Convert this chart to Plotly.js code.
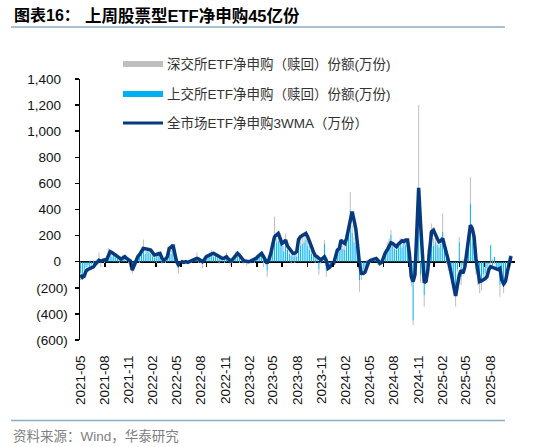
<!DOCTYPE html>
<html>
<head>
<meta charset="utf-8">
<script src="https://cdn.plot.ly/plotly-3.0.1.min.js"></script>
<style>html,body{margin:0;padding:0;background:#fff;}#chart{width:550px;height:447px;}</style>
</head>
<body>
<div id="chart"></div>
<script>
// ---- Data (weekly, starting 2021-05-14) ----
const START_DATE = '2021-05-14';
const TICK_LABELS = ['2021-05','2021-08','2021-11','2022-02','2022-05','2022-08','2022-11','2023-02','2023-05','2023-08','2023-11','2024-02','2024-05','2024-08','2024-11','2025-02','2025-05','2025-08'];
const Y_TICKS = [-600,-400,-200,0,200,400,600,800,1000,1200,1400];
const Y_TICK_TEXT = ['(600)','(400)','(200)','0\u2002','200\u2002','400\u2002','600\u2002','800\u2002','1,000\u2002','1,200\u2002','1,400\u2002'];

// 深交所ETF净申购（赎回）份额(万份)
const SZ = [
 -50,-30,-20,-15,-20,10,-15,15,-20,20,
 40,-30,10,-20,15,45,20,30,10,30,
 10,-10,20,15,20,10,-15,5,-40,10,
 10,20,-10,40,80,30,20,40,30,20,
 20,-20,30,40,-15,10,-10,20,30,40,
 40,60,10,-50,-10,-15,10,-10,5,-10,
 -10,10,10,40,-10,15,-30,10,20,30,
 20,30,20,10,30,-15,20,15,-10,20,
 15,-20,-15,20,30,40,-10,20,-20,10,
 -20,-10,10,-5,-10,20,15,20,30,-40,
 -20,-45,20,30,60,127,30,70,40,50,
 40,67,30,20,-15,20,-10,30,60,80,
 60,50,70,40,30,30,20,-10,20,-40,
 -15,10,26,-45,-20,-10,-15,-10,25,30,
 30,50,40,30,60,80,140,60,40,30,
 20,-90,-40,-30,-30,15,-20,-10,10,20,
 15,-20,-30,20,10,30,40,50,38,30,
 30,50,20,40,30,30,40,30,-30,-40,
 -35,-60,100,850,-60,-40,-90,-60,40,80,
 93,60,40,50,40,30,140,30,-20,-30,
 -30,-40,-60,-94,-20,40,-58,20,10,30,
 60,204,60,50,-40,-60,-102,-60,-50,-40,
 -30,-20,-20,20,-20,-30,-20,-88,-40,-92,
 -60,-30,21,21
];
// 上交所ETF净申购（赎回）份额(万份)
const SH = [
 -90,-110,-60,-40,-30,-50,-20,-30,10,-10,
 30,-10,20,10,30,60,70,40,50,30,
 20,30,10,40,30,10,20,-10,-50,-20,
 20,40,50,70,90,60,80,70,60,40,
 30,40,50,30,10,-10,30,40,80,60,
 90,80,-20,-40,-10,10,-10,5,-10,10,
 10,5,20,30,10,-10,-20,30,40,30,
 50,60,40,50,30,20,20,10,30,50,
 10,-10,20,30,50,40,30,10,5,-10,
 -10,10,5,10,20,30,40,50,50,30,
 10,-70,30,60,120,217,150,160,180,120,
 80,150,90,60,50,40,60,40,130,120,
 140,150,170,120,90,60,40,30,40,-60,
 20,30,140,-70,-40,-30,-20,10,40,70,
 80,130,100,90,160,200,395,220,150,120,
 60,-140,-100,-60,-40,-20,-10,10,20,10,
 20,-10,10,-20,50,70,110,130,204,120,
 100,90,120,140,110,150,130,150,-20,-150,
 -450,-50,150,350,-100,-40,-255,-80,60,150,
 200,120,150,130,110,140,230,120,20,-40,
 -60,-120,-150,-250,-60,150,-120,-30,-20,50,
 100,446,150,80,-60,-120,-140,-160,-100,-90,
 -50,-20,128,-30,38,-40,-50,-180,-60,-150,
 -120,-40,30,30
];
// 全市场ETF净申购3WMA（万份）
const WMA3 = [
 -100,-120,-110,-70,-60,-55,-45,-40,-20,-5,
 10,5,13,15,10,40,77,70,60,51,
 35,25,20,30,38,25,15,5,-64,-30,
 10,38,55,80,102,100,95,90,89,70,
 51,55,60,64,30,10,20,38,102,110,
 128,60,0,-25,-15,0,-5,0,-5,0,
 5,10,15,25,20,10,0,15,38,45,
 55,60,64,58,51,40,30,25,30,38,
 20,8,13,30,50,64,50,30,13,5,
 0,0,5,10,13,25,40,51,64,40,
 10,-13,20,64,130,191,205,217,180,140,
 150,166,120,100,77,64,66,77,170,191,
 200,210,217,190,160,115,77,45,38,30,
 15,25,38,10,-50,-40,-20,-13,40,89,
 100,166,150,140,180,242,320,383,320,250,
 120,-20,-89,-90,-80,-40,0,10,13,20,
 25,10,-13,-5,40,70,89,120,145,140,
 125,115,135,150,160,155,166,166,60,-115,
 -153,-100,250,566,300,0,-160,-150,-60,100,
 230,242,200,179,153,160,179,130,80,13,
 -50,-115,-200,-263,-180,-100,-64,-89,-40,60,
 160,280,255,191,25,-89,-153,-148,-140,-130,
 -115,-60,-38,-45,-51,-60,-60,-51,-140,-170,
 -150,-76,-10,43
];

const NAMES = ['深交所ETF净申购（赎回）份额(万份)','上交所ETF净申购（赎回）份额(万份)','全市场ETF净申购3WMA（万份）'];
const COLORS = ['#BFBFBF','#00B0F0','#06397D'];

// weekly category dates
const WEEKS = [];
(function(){
  const t0 = Date.parse(START_DATE + 'T00:00:00Z');
  for (let i = 0; i < WMA3.length; i++) {
    WEEKS.push(new Date(t0 + i*7*86400000).toISOString().slice(0,10));
  }
})();

const X_RANGE = ['2021-05-12','2025-11-15'];
// minor tick marks on the zero line (style)
const ZERO_TICKS = [];
(function(){
  const t0 = Date.parse(X_RANGE[0] + 'T00:00:00Z');
  for (let k = 1; k <= 17; k++) ZERO_TICKS.push(new Date(t0 + k*95.8*86400000).toISOString().slice(0,10));
})();

const FONT = 'Liberation Sans, Arial, Noto Sans CJK SC, sans-serif';

const traces = [
  {type:'bar', x:WEEKS, y:SH, name:NAMES[1], marker:{color:COLORS[1], line:{width:0}}, showlegend:false},
  {type:'bar', x:WEEKS, y:SZ, name:NAMES[0], marker:{color:COLORS[0], line:{width:0}}, showlegend:false},
  {type:'scatter', mode:'lines', x:WEEKS, y:WMA3, name:NAMES[2], line:{color:COLORS[2], width:3.5}, showlegend:false},
  {type:'scatter', mode:'lines', x:X_RANGE, y:[0,0], xaxis:'x2', line:{color:'rgba(0,0,0,0)', width:0}, showlegend:false, hoverinfo:'skip'}
];

// plot area px: left 80, right 515, top 79, bottom 340
const PW = 435, PH = 261;
const px = v => (v - 80) / PW;
const py = v => (340 - v) / PH;

const shapes = [
  {type:'line', xref:'paper', yref:'paper', x0:px(11), x1:px(505), y0:py(27), y1:py(27), line:{color:'#8FAAC4', width:1.5}},
  {type:'line', xref:'paper', yref:'paper', x0:px(11), x1:px(505), y0:py(420.5), y1:py(420.5), line:{color:'#8FAAC4', width:1.5}},
  {type:'rect', xref:'paper', yref:'paper', x0:px(123), x1:px(163), y0:py(67), y1:py(61), fillcolor:COLORS[0], line:{width:0}},
  {type:'rect', xref:'paper', yref:'paper', x0:px(123), x1:px(163), y0:py(97), y1:py(91), fillcolor:COLORS[1], line:{width:0}},
  {type:'line', xref:'paper', yref:'paper', x0:px(123), x1:px(163), y0:py(123), y1:py(123), line:{color:COLORS[2], width:3}}
];

const annotations = [
  {xref:'paper', yref:'paper', x:px(12), y:py(16), xanchor:'left', yanchor:'middle', showarrow:false, text:'图表16：', font:{family:FONT, size:16, color:'#000', weight:'bold'}},
  {xref:'paper', yref:'paper', x:px(83), y:py(16), xanchor:'left', yanchor:'middle', showarrow:false, text:'上周股票型ETF净申购45亿份', font:{family:FONT, size:16.5, color:'#000', weight:'bold'}},
  {xref:'paper', yref:'paper', x:px(165), y:py(64), xanchor:'left', yanchor:'middle', showarrow:false, text:NAMES[0], font:{family:FONT, size:13.5, color:'#333'}},
  {xref:'paper', yref:'paper', x:px(165), y:py(94), xanchor:'left', yanchor:'middle', showarrow:false, text:NAMES[1], font:{family:FONT, size:13.5, color:'#333'}},
  {xref:'paper', yref:'paper', x:px(165), y:py(123), xanchor:'left', yanchor:'middle', showarrow:false, text:NAMES[2], font:{family:FONT, size:13.5, color:'#333'}},
  {xref:'paper', yref:'paper', x:px(11), y:py(436), xanchor:'left', yanchor:'middle', showarrow:false, text:'资料来源：Wind，华泰研究', font:{family:FONT, size:13.5, color:'#808080'}}
];

const layout = {
  width:550, height:447,
  margin:{l:80, r:35, t:79, b:107},
  paper_bgcolor:'#fff', plot_bgcolor:'#fff',
  font:{family:FONT, color:'#000'},
  barmode:'relative', bargap:0.45,
  showlegend:false,
  xaxis:{type:'date', range:X_RANGE, tickvals:TICK_LABELS.map(s => s + '-13'), ticktext:TICK_LABELS,
         tickangle:-90, ticks:'outside', ticklen:9, tickcolor:'rgba(0,0,0,0)', showline:false, showgrid:false, zeroline:false,
         tickfont:{family:FONT, size:13.5, color:'#111'}, fixedrange:true},
  xaxis2:{type:'date', overlaying:'x', anchor:'free', position:0.3, side:'bottom', range:X_RANGE, tickvals:ZERO_TICKS,
          ticks:'outside', ticklen:4, tickwidth:1.5, tickcolor:'#000', showticklabels:false, showline:false, showgrid:false, zeroline:false},
  yaxis:{range:[-600,1400], tickvals:Y_TICKS, ticktext:Y_TICK_TEXT, ticks:'outside', ticklen:4, tickwidth:1.5, tickcolor:'#000',
         ticklabelstandoff:4,
         showline:true, linecolor:'#000', linewidth:1.5, showgrid:false, zeroline:true, zerolinecolor:'#000', zerolinewidth:1.8,
         tickfont:{family:FONT, size:13.5, color:'#111'}},
  shapes:shapes,
  annotations:annotations
};

Plotly.newPlot('chart', traces, layout, {staticPlot:true, displayModeBar:false});
</script>
</body>
</html>
